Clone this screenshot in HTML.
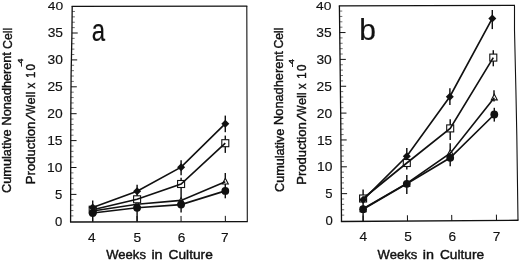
<!DOCTYPE html>
<html><head><meta charset="utf-8"><title>Figure</title>
<style>
html,body{margin:0;padding:0;background:#fff;}
body{width:520px;height:261px;overflow:hidden;font-family:"Liberation Sans",sans-serif;}
svg{display:block;filter:grayscale(1);}
text{font-family:"Liberation Sans",sans-serif;stroke:#111;stroke-width:0.4px;}
text.d{stroke-width:0.15px;}
</style></head><body>
<svg width="520" height="261" viewBox="0 0 520 261" font-family="Liberation Sans, sans-serif" fill="#111">
<rect width="520" height="261" fill="#fff"/>
<polyline points="72.2,6.3 71.9,35 71.1,75 70.8,115 70.6,222" fill="none" stroke="#111" stroke-width="1.3" />
<polyline points="246.8,6.1 247.1,130 247.3,221.6" fill="none" stroke="#111" stroke-width="1.1" />
<line x1="71.6" y1="6.3" x2="247.3" y2="6.1" stroke="#111" stroke-width="1.3" />
<line x1="70" y1="222" x2="247.8" y2="221.6" stroke="#111" stroke-width="1.4" />
<line x1="70.61" y1="215.92" x2="73.41" y2="215.92" stroke="#111" stroke-width="0.8" stroke-opacity="0.75"/>
<line x1="70.62" y1="210.54" x2="73.42" y2="210.54" stroke="#111" stroke-width="0.8" stroke-opacity="0.75"/>
<line x1="70.63" y1="205.16" x2="73.43" y2="205.16" stroke="#111" stroke-width="0.8" stroke-opacity="0.75"/>
<line x1="70.64" y1="199.78" x2="73.44" y2="199.78" stroke="#111" stroke-width="0.8" stroke-opacity="0.75"/>
<line x1="70.65" y1="194.4" x2="76.45" y2="194.4" stroke="#111" stroke-width="1.0" />
<line x1="70.66" y1="189.02" x2="73.46" y2="189.02" stroke="#111" stroke-width="0.8" stroke-opacity="0.75"/>
<line x1="70.67" y1="183.64" x2="73.47" y2="183.64" stroke="#111" stroke-width="0.8" stroke-opacity="0.75"/>
<line x1="70.68" y1="178.26" x2="73.48" y2="178.26" stroke="#111" stroke-width="0.8" stroke-opacity="0.75"/>
<line x1="70.69" y1="172.88" x2="73.49" y2="172.88" stroke="#111" stroke-width="0.8" stroke-opacity="0.75"/>
<line x1="70.7" y1="167.5" x2="76.5" y2="167.5" stroke="#111" stroke-width="1.0" />
<line x1="70.71" y1="162.12" x2="73.51" y2="162.12" stroke="#111" stroke-width="0.8" stroke-opacity="0.75"/>
<line x1="70.72" y1="156.74" x2="73.52" y2="156.74" stroke="#111" stroke-width="0.8" stroke-opacity="0.75"/>
<line x1="70.73" y1="151.36" x2="73.53" y2="151.36" stroke="#111" stroke-width="0.8" stroke-opacity="0.75"/>
<line x1="70.74" y1="145.98" x2="73.54" y2="145.98" stroke="#111" stroke-width="0.8" stroke-opacity="0.75"/>
<line x1="70.75" y1="140.6" x2="76.55" y2="140.6" stroke="#111" stroke-width="1.0" />
<line x1="70.76" y1="135.22" x2="73.56" y2="135.22" stroke="#111" stroke-width="0.8" stroke-opacity="0.75"/>
<line x1="70.77" y1="129.84" x2="73.57" y2="129.84" stroke="#111" stroke-width="0.8" stroke-opacity="0.75"/>
<line x1="70.78" y1="124.46" x2="73.58" y2="124.46" stroke="#111" stroke-width="0.8" stroke-opacity="0.75"/>
<line x1="70.79" y1="119.08" x2="73.59" y2="119.08" stroke="#111" stroke-width="0.8" stroke-opacity="0.75"/>
<line x1="70.81" y1="113.7" x2="76.61" y2="113.7" stroke="#111" stroke-width="1.0" />
<line x1="70.85" y1="108.32" x2="73.65" y2="108.32" stroke="#111" stroke-width="0.8" stroke-opacity="0.75"/>
<line x1="70.89" y1="102.94" x2="73.69" y2="102.94" stroke="#111" stroke-width="0.8" stroke-opacity="0.75"/>
<line x1="70.93" y1="97.56" x2="73.73" y2="97.56" stroke="#111" stroke-width="0.8" stroke-opacity="0.75"/>
<line x1="70.97" y1="92.18" x2="73.77" y2="92.18" stroke="#111" stroke-width="0.8" stroke-opacity="0.75"/>
<line x1="71.01" y1="86.8" x2="76.81" y2="86.8" stroke="#111" stroke-width="1.0" />
<line x1="71.05" y1="81.42" x2="73.85" y2="81.42" stroke="#111" stroke-width="0.8" stroke-opacity="0.75"/>
<line x1="71.09" y1="76.04" x2="73.89" y2="76.04" stroke="#111" stroke-width="0.8" stroke-opacity="0.75"/>
<line x1="71.19" y1="70.66" x2="73.99" y2="70.66" stroke="#111" stroke-width="0.8" stroke-opacity="0.75"/>
<line x1="71.29" y1="65.28" x2="74.09" y2="65.28" stroke="#111" stroke-width="0.8" stroke-opacity="0.75"/>
<line x1="71.4" y1="59.9" x2="77.2" y2="59.9" stroke="#111" stroke-width="1.0" />
<line x1="71.51" y1="54.52" x2="74.31" y2="54.52" stroke="#111" stroke-width="0.8" stroke-opacity="0.75"/>
<line x1="71.62" y1="49.14" x2="74.42" y2="49.14" stroke="#111" stroke-width="0.8" stroke-opacity="0.75"/>
<line x1="71.72" y1="43.76" x2="74.52" y2="43.76" stroke="#111" stroke-width="0.8" stroke-opacity="0.75"/>
<line x1="71.83" y1="38.38" x2="74.63" y2="38.38" stroke="#111" stroke-width="0.8" stroke-opacity="0.75"/>
<line x1="71.92" y1="33" x2="77.72" y2="33" stroke="#111" stroke-width="1.0" />
<line x1="71.98" y1="27.62" x2="74.78" y2="27.62" stroke="#111" stroke-width="0.8" stroke-opacity="0.75"/>
<line x1="72.03" y1="22.24" x2="74.83" y2="22.24" stroke="#111" stroke-width="0.8" stroke-opacity="0.75"/>
<line x1="72.09" y1="16.86" x2="74.89" y2="16.86" stroke="#111" stroke-width="0.8" stroke-opacity="0.75"/>
<line x1="72.15" y1="11.48" x2="74.95" y2="11.48" stroke="#111" stroke-width="0.8" stroke-opacity="0.75"/>
<text x="54.9" y="225.6"  font-size="12.7" text-anchor="start" textLength="7.3" lengthAdjust="spacingAndGlyphs" class="d">0</text>
<text x="55.02" y="198.7"  font-size="12.7" text-anchor="start" textLength="7.3" lengthAdjust="spacingAndGlyphs" class="d">5</text>
<text x="47.05" y="171.8"  font-size="12.7" text-anchor="start" textLength="15.4" lengthAdjust="spacingAndGlyphs" class="d">10</text>
<text x="47.17" y="144.9"  font-size="12.7" text-anchor="start" textLength="15.4" lengthAdjust="spacingAndGlyphs" class="d">15</text>
<text x="47.3" y="118"  font-size="12.7" text-anchor="start" textLength="15.4" lengthAdjust="spacingAndGlyphs" class="d">20</text>
<text x="47.42" y="91.1"  font-size="12.7" text-anchor="start" textLength="15.4" lengthAdjust="spacingAndGlyphs" class="d">25</text>
<text x="47.55" y="64.2"  font-size="12.7" text-anchor="start" textLength="15.4" lengthAdjust="spacingAndGlyphs" class="d">30</text>
<text x="47.67" y="37.3"  font-size="12.7" text-anchor="start" textLength="15.4" lengthAdjust="spacingAndGlyphs" class="d">35</text>
<text transform="translate(47.8,10) scale(1,0.9)" x="0" y="0" font-size="12.7" class="d" textLength="15.4" lengthAdjust="spacingAndGlyphs">40</text>
<line x1="92.7" y1="221.95" x2="92.6" y2="216.15" stroke="#111" stroke-width="1.0" />
<text x="88.1" y="241.5"  font-size="13" text-anchor="start" textLength="7.6" lengthAdjust="spacingAndGlyphs" class="d">4</text>
<line x1="137.1" y1="221.85" x2="137" y2="216.05" stroke="#111" stroke-width="1.0" />
<text x="133.4" y="241.5"  font-size="13" text-anchor="start" textLength="7.6" lengthAdjust="spacingAndGlyphs" class="d">5</text>
<line x1="181.1" y1="221.75" x2="181" y2="215.95" stroke="#111" stroke-width="1.0" />
<text x="177.7" y="241.5"  font-size="13" text-anchor="start" textLength="7.6" lengthAdjust="spacingAndGlyphs" class="d">6</text>
<line x1="225.4" y1="221.65" x2="225.3" y2="215.85" stroke="#111" stroke-width="1.0" />
<text x="221" y="241.5"  font-size="13" text-anchor="start" textLength="7.6" lengthAdjust="spacingAndGlyphs" class="d">7</text>
<polyline points="339.4,5.8 340.7,115 341.5,221.5" fill="none" stroke="#111" stroke-width="1.3" />
<polyline points="514.5,5.4 514.5,30 515.9,90 516.8,135 518,220.3" fill="none" stroke="#111" stroke-width="1.1" />
<line x1="338.8" y1="5.8" x2="515" y2="5.4" stroke="#111" stroke-width="1.3" />
<line x1="340.9" y1="221.5" x2="518.5" y2="220.3" stroke="#111" stroke-width="1.4" />
<line x1="341.45" y1="215.13" x2="344.25" y2="215.13" stroke="#111" stroke-width="0.8" stroke-opacity="0.75"/>
<line x1="341.41" y1="209.76" x2="344.21" y2="209.76" stroke="#111" stroke-width="0.8" stroke-opacity="0.75"/>
<line x1="341.37" y1="204.39" x2="344.17" y2="204.39" stroke="#111" stroke-width="0.8" stroke-opacity="0.75"/>
<line x1="341.33" y1="199.02" x2="344.13" y2="199.02" stroke="#111" stroke-width="0.8" stroke-opacity="0.75"/>
<line x1="341.29" y1="193.65" x2="347.09" y2="193.65" stroke="#111" stroke-width="1.0" />
<line x1="341.25" y1="188.28" x2="344.05" y2="188.28" stroke="#111" stroke-width="0.8" stroke-opacity="0.75"/>
<line x1="341.21" y1="182.91" x2="344.01" y2="182.91" stroke="#111" stroke-width="0.8" stroke-opacity="0.75"/>
<line x1="341.17" y1="177.54" x2="343.97" y2="177.54" stroke="#111" stroke-width="0.8" stroke-opacity="0.75"/>
<line x1="341.13" y1="172.17" x2="343.93" y2="172.17" stroke="#111" stroke-width="0.8" stroke-opacity="0.75"/>
<line x1="341.09" y1="166.8" x2="346.89" y2="166.8" stroke="#111" stroke-width="1.0" />
<line x1="341.05" y1="161.43" x2="343.85" y2="161.43" stroke="#111" stroke-width="0.8" stroke-opacity="0.75"/>
<line x1="341.01" y1="156.06" x2="343.81" y2="156.06" stroke="#111" stroke-width="0.8" stroke-opacity="0.75"/>
<line x1="340.97" y1="150.69" x2="343.77" y2="150.69" stroke="#111" stroke-width="0.8" stroke-opacity="0.75"/>
<line x1="340.93" y1="145.32" x2="343.73" y2="145.32" stroke="#111" stroke-width="0.8" stroke-opacity="0.75"/>
<line x1="340.89" y1="139.95" x2="346.69" y2="139.95" stroke="#111" stroke-width="1.0" />
<line x1="340.85" y1="134.58" x2="343.65" y2="134.58" stroke="#111" stroke-width="0.8" stroke-opacity="0.75"/>
<line x1="340.81" y1="129.21" x2="343.61" y2="129.21" stroke="#111" stroke-width="0.8" stroke-opacity="0.75"/>
<line x1="340.77" y1="123.84" x2="343.57" y2="123.84" stroke="#111" stroke-width="0.8" stroke-opacity="0.75"/>
<line x1="340.73" y1="118.47" x2="343.53" y2="118.47" stroke="#111" stroke-width="0.8" stroke-opacity="0.75"/>
<line x1="340.68" y1="113.1" x2="346.48" y2="113.1" stroke="#111" stroke-width="1.0" />
<line x1="340.61" y1="107.73" x2="343.41" y2="107.73" stroke="#111" stroke-width="0.8" stroke-opacity="0.75"/>
<line x1="340.55" y1="102.36" x2="343.35" y2="102.36" stroke="#111" stroke-width="0.8" stroke-opacity="0.75"/>
<line x1="340.49" y1="96.99" x2="343.29" y2="96.99" stroke="#111" stroke-width="0.8" stroke-opacity="0.75"/>
<line x1="340.42" y1="91.62" x2="343.22" y2="91.62" stroke="#111" stroke-width="0.8" stroke-opacity="0.75"/>
<line x1="340.36" y1="86.25" x2="346.16" y2="86.25" stroke="#111" stroke-width="1.0" />
<line x1="340.29" y1="80.88" x2="343.09" y2="80.88" stroke="#111" stroke-width="0.8" stroke-opacity="0.75"/>
<line x1="340.23" y1="75.51" x2="343.03" y2="75.51" stroke="#111" stroke-width="0.8" stroke-opacity="0.75"/>
<line x1="340.17" y1="70.14" x2="342.97" y2="70.14" stroke="#111" stroke-width="0.8" stroke-opacity="0.75"/>
<line x1="340.1" y1="64.77" x2="342.9" y2="64.77" stroke="#111" stroke-width="0.8" stroke-opacity="0.75"/>
<line x1="340.04" y1="59.4" x2="345.84" y2="59.4" stroke="#111" stroke-width="1.0" />
<line x1="339.97" y1="54.03" x2="342.77" y2="54.03" stroke="#111" stroke-width="0.8" stroke-opacity="0.75"/>
<line x1="339.91" y1="48.66" x2="342.71" y2="48.66" stroke="#111" stroke-width="0.8" stroke-opacity="0.75"/>
<line x1="339.85" y1="43.29" x2="342.65" y2="43.29" stroke="#111" stroke-width="0.8" stroke-opacity="0.75"/>
<line x1="339.78" y1="37.92" x2="342.58" y2="37.92" stroke="#111" stroke-width="0.8" stroke-opacity="0.75"/>
<line x1="339.72" y1="32.55" x2="345.52" y2="32.55" stroke="#111" stroke-width="1.0" />
<line x1="339.65" y1="27.18" x2="342.45" y2="27.18" stroke="#111" stroke-width="0.8" stroke-opacity="0.75"/>
<line x1="339.59" y1="21.81" x2="342.39" y2="21.81" stroke="#111" stroke-width="0.8" stroke-opacity="0.75"/>
<line x1="339.53" y1="16.44" x2="342.33" y2="16.44" stroke="#111" stroke-width="0.8" stroke-opacity="0.75"/>
<line x1="339.46" y1="11.07" x2="342.26" y2="11.07" stroke="#111" stroke-width="0.8" stroke-opacity="0.75"/>
<text x="325.5" y="225.1"  font-size="12.7" text-anchor="start" textLength="7.3" lengthAdjust="spacingAndGlyphs" class="d">0</text>
<text x="325.34" y="198.25"  font-size="12.7" text-anchor="start" textLength="7.3" lengthAdjust="spacingAndGlyphs" class="d">5</text>
<text x="317.07" y="171.4"  font-size="12.7" text-anchor="start" textLength="15.4" lengthAdjust="spacingAndGlyphs" class="d">10</text>
<text x="316.91" y="144.55"  font-size="12.7" text-anchor="start" textLength="15.4" lengthAdjust="spacingAndGlyphs" class="d">15</text>
<text x="316.75" y="117.7"  font-size="12.7" text-anchor="start" textLength="15.4" lengthAdjust="spacingAndGlyphs" class="d">20</text>
<text x="316.59" y="90.85"  font-size="12.7" text-anchor="start" textLength="15.4" lengthAdjust="spacingAndGlyphs" class="d">25</text>
<text x="316.42" y="64"  font-size="12.7" text-anchor="start" textLength="15.4" lengthAdjust="spacingAndGlyphs" class="d">30</text>
<text x="316.26" y="37.15"  font-size="12.7" text-anchor="start" textLength="15.4" lengthAdjust="spacingAndGlyphs" class="d">35</text>
<text transform="translate(316.1,9.9) scale(1,0.9)" x="0" y="0" font-size="12.7" class="d" textLength="15.4" lengthAdjust="spacingAndGlyphs">40</text>
<line x1="363.2" y1="221.35" x2="363.1" y2="215.55" stroke="#111" stroke-width="1.0" />
<text x="359.4" y="240.5"  font-size="13" text-anchor="start" textLength="7.6" lengthAdjust="spacingAndGlyphs" class="d">4</text>
<line x1="407.5" y1="221.05" x2="407.4" y2="215.25" stroke="#111" stroke-width="1.0" />
<text x="404.3" y="240.5"  font-size="13" text-anchor="start" textLength="7.6" lengthAdjust="spacingAndGlyphs" class="d">5</text>
<line x1="451.8" y1="220.75" x2="451.7" y2="214.95" stroke="#111" stroke-width="1.0" />
<text x="448.6" y="240.5"  font-size="13" text-anchor="start" textLength="7.6" lengthAdjust="spacingAndGlyphs" class="d">6</text>
<line x1="496.5" y1="220.45" x2="496.4" y2="214.65" stroke="#111" stroke-width="1.0" />
<text x="492.7" y="240.5"  font-size="13" text-anchor="start" textLength="7.6" lengthAdjust="spacingAndGlyphs" class="d">7</text>
<line x1="92.7" y1="200.5" x2="92.7" y2="221.5" stroke="#111" stroke-width="1.45" />
<line x1="137.1" y1="184.7" x2="137.1" y2="221.5" stroke="#111" stroke-width="1.45" />
<line x1="181.1" y1="160.3" x2="181.1" y2="175.3" stroke="#111" stroke-width="1.45" />
<line x1="181.1" y1="177.8" x2="181.1" y2="212.6" stroke="#111" stroke-width="1.45" />
<line x1="225.3" y1="115.6" x2="225.3" y2="132.2" stroke="#111" stroke-width="1.45" />
<line x1="225.3" y1="135.6" x2="225.3" y2="152.9" stroke="#111" stroke-width="1.45" />
<line x1="225.3" y1="173" x2="225.3" y2="186" stroke="#111" stroke-width="1.45" />
<line x1="225.3" y1="186" x2="225.3" y2="198.3" stroke="#111" stroke-width="1.45" />
<line x1="363.1" y1="189.6" x2="363.1" y2="221.5" stroke="#111" stroke-width="1.45" />
<line x1="406.8" y1="148" x2="406.8" y2="169.4" stroke="#111" stroke-width="1.45" />
<line x1="406.8" y1="175" x2="406.8" y2="194" stroke="#111" stroke-width="1.45" />
<line x1="449.9" y1="88.3" x2="449.9" y2="105" stroke="#111" stroke-width="1.45" />
<line x1="450.2" y1="119.2" x2="450.2" y2="139.9" stroke="#111" stroke-width="1.45" />
<line x1="450.2" y1="143.3" x2="450.2" y2="166.3" stroke="#111" stroke-width="1.45" />
<line x1="492.3" y1="10" x2="492.3" y2="29.1" stroke="#111" stroke-width="1.45" />
<line x1="493.3" y1="50.2" x2="493.3" y2="66.3" stroke="#111" stroke-width="1.45" />
<line x1="494" y1="90.3" x2="494" y2="101.5" stroke="#111" stroke-width="1.45" />
<line x1="494.3" y1="107.8" x2="494.3" y2="121.6" stroke="#111" stroke-width="1.45" />
<polygon points="92.7,208.3 95.7,213.9 89.7,213.9" fill="#fff" stroke="#111" stroke-width="1.1" stroke-linejoin="miter"/>
<polygon points="137.1,201.4 140.1,207 134.1,207" fill="#fff" stroke="#111" stroke-width="1.1" stroke-linejoin="miter"/>
<polygon points="181.1,197.6 184.1,203.2 178.1,203.2" fill="#fff" stroke="#111" stroke-width="1.1" stroke-linejoin="miter"/>
<polygon points="225.3,178.35 228.3,183.95 222.3,183.95" fill="#fff" stroke="#111" stroke-width="1.1" stroke-linejoin="miter"/>
<rect x="89.2" y="206.2" width="7.0" height="7.0" fill="#fff" stroke="#111" stroke-width="1.1"/>
<rect x="133.6" y="195.8" width="7.0" height="7.0" fill="#fff" stroke="#111" stroke-width="1.1"/>
<rect x="177.6" y="180.5" width="7.0" height="7.0" fill="#fff" stroke="#111" stroke-width="1.1"/>
<rect x="221.8" y="139.7" width="7.0" height="7.0" fill="#fff" stroke="#111" stroke-width="1.1"/>
<circle cx="92.7" cy="213" r="3.9" fill="#111"/>
<circle cx="137.1" cy="207.8" r="3.9" fill="#111"/>
<circle cx="181.1" cy="204.6" r="3.9" fill="#111"/>
<circle cx="225.3" cy="190.9" r="3.9" fill="#111"/>
<polygon points="92.7,203.6 96.7,207.6 92.7,211.6 88.7,207.6" fill="#111"/>
<polygon points="137.1,187.3 141.1,191.3 137.1,195.3 133.1,191.3" fill="#111"/>
<polygon points="181.1,163.2 185.1,167.2 181.1,171.2 177.1,167.2" fill="#111"/>
<polygon points="225.3,119.7 229.3,123.7 225.3,127.7 221.3,123.7" fill="#111"/>
<polygon points="363.1,206.1 366.1,211.7 360.1,211.7" fill="#fff" stroke="#111" stroke-width="1.1" stroke-linejoin="miter"/>
<polygon points="406.8,180.7 409.8,186.3 403.8,186.3" fill="#fff" stroke="#111" stroke-width="1.1" stroke-linejoin="miter"/>
<polygon points="450.3,149.55 453.3,155.15 447.3,155.15" fill="#fff" stroke="#111" stroke-width="1.1" stroke-linejoin="miter"/>
<polygon points="494.3,94.25 497.3,99.85 491.3,99.85" fill="#fff" stroke="#111" stroke-width="1.1" stroke-linejoin="miter"/>
<rect x="359.6" y="195" width="7.0" height="7.0" fill="#fff" stroke="#111" stroke-width="1.1"/>
<rect x="403.3" y="159.5" width="7.0" height="7.0" fill="#fff" stroke="#111" stroke-width="1.1"/>
<rect x="446.7" y="124.9" width="7.0" height="7.0" fill="#fff" stroke="#111" stroke-width="1.1"/>
<rect x="489.8" y="54.1" width="7.0" height="7.0" fill="#fff" stroke="#111" stroke-width="1.1"/>
<circle cx="363.1" cy="209.2" r="3.9" fill="#111"/>
<circle cx="406.8" cy="183.8" r="3.9" fill="#111"/>
<circle cx="450.2" cy="157.8" r="3.9" fill="#111"/>
<circle cx="494.3" cy="114.5" r="3.9" fill="#111"/>
<polygon points="363.1,195.8 367.1,199.8 363.1,203.8 359.1,199.8" fill="#111"/>
<polygon points="406.8,152.3 410.8,156.3 406.8,160.3 402.8,156.3" fill="#111"/>
<polygon points="449.8,92.7 453.8,96.7 449.8,100.7 445.8,96.7" fill="#111"/>
<polygon points="492.3,14.4 496.3,18.4 492.3,22.4 488.3,18.4" fill="#111"/>
<polyline points="92.7,207.6 137.1,191.3 181.1,167.2 225.3,123.7" fill="none" stroke="#111" stroke-width="1.65" />
<polyline points="92.7,209.7 137.1,199.3 181.1,184 225.3,143.2" fill="none" stroke="#111" stroke-width="1.65" />
<polyline points="92.7,211 137.1,204.3 181.1,200.4 225.3,181.7" fill="none" stroke="#111" stroke-width="1.65" />
<polyline points="92.7,213 137.1,207.8 181.1,204.6 225.3,190.9" fill="none" stroke="#111" stroke-width="1.65" />
<polyline points="363.1,199.8 406.8,156.3 449.8,96.7 492.3,18.4" fill="none" stroke="#111" stroke-width="1.65" />
<polyline points="363.1,198.5 406.8,163 450.2,128.4 493.3,57.6" fill="none" stroke="#111" stroke-width="1.65" />
<polyline points="363.1,208.8 406.8,183.4 450.3,153.2 494.3,97.7" fill="none" stroke="#111" stroke-width="1.65" />
<polyline points="363.1,209.2 406.8,183.8 450.2,157.8 494.3,114.5" fill="none" stroke="#111" stroke-width="1.65" />
<text transform="translate(91.8,40.5) scale(0.8,1.03)" x="0" y="0" font-size="30" style="stroke-width:0.2px">a</text>
<text x="359.3" y="39.6"  font-size="30" text-anchor="start"  style="stroke-width:0.2px">b</text>
<text x="106.3" y="259.3"  font-size="12.6" text-anchor="start" textLength="39.6" lengthAdjust="spacingAndGlyphs" >Weeks</text>
<text x="151.4" y="259.3"  font-size="12.6" text-anchor="start" textLength="11.2" lengthAdjust="spacingAndGlyphs" >in</text>
<text x="168.6" y="259.3"  font-size="12.6" text-anchor="start" textLength="44.2" lengthAdjust="spacingAndGlyphs" >Culture</text>
<text x="377.6" y="258.9"  font-size="12.6" text-anchor="start" textLength="39.6" lengthAdjust="spacingAndGlyphs" >Weeks</text>
<text x="422.7" y="258.9"  font-size="12.6" text-anchor="start" textLength="11.2" lengthAdjust="spacingAndGlyphs" >in</text>
<text x="439.9" y="258.9"  font-size="12.6" text-anchor="start" textLength="44.2" lengthAdjust="spacingAndGlyphs" >Culture</text>
<text x="0" y="0" transform="translate(10.9,192.9) rotate(-90)" font-size="12.5" text-anchor="start" textLength="63.6" lengthAdjust="spacingAndGlyphs" >Cumulative</text>
<text x="0" y="0" transform="translate(10.9,125.4) rotate(-90)" font-size="12.5" text-anchor="start" textLength="73.3" lengthAdjust="spacingAndGlyphs" >Nonadherent</text>
<text x="0" y="0" transform="translate(12,48.9) rotate(-90)" font-size="12.5" text-anchor="start" textLength="21.2" lengthAdjust="spacingAndGlyphs" >Cell</text>
<text x="0" y="0" transform="translate(35,184.2) rotate(-90)" font-size="12.5" text-anchor="start" textLength="62.6" lengthAdjust="spacingAndGlyphs" >Production</text>
<line x1="35.1" y1="120.3" x2="25.9" y2="114.9" stroke="#111" stroke-width="1.45" />
<text x="0" y="0" transform="translate(35,114.6) rotate(-90)" font-size="12.5" text-anchor="start" textLength="9.8" lengthAdjust="spacingAndGlyphs" >W</text>
<text x="0" y="0" transform="translate(35,104.5) rotate(-90)" font-size="12.5" text-anchor="start" textLength="12.8" lengthAdjust="spacingAndGlyphs" >ell</text>
<text x="0" y="0" transform="translate(35,88.6) rotate(-90)" font-size="12.5" text-anchor="start" textLength="5.8" lengthAdjust="spacingAndGlyphs" >x</text>
<text x="0" y="0" transform="translate(35,78.1) rotate(-90)" font-size="12.5" text-anchor="start" textLength="6.3" lengthAdjust="spacingAndGlyphs" >1</text>
<text x="0" y="0" transform="translate(35.3,70.5) rotate(-90)" font-size="12.5" text-anchor="start" textLength="6.4" lengthAdjust="spacingAndGlyphs" >0</text>
<text x="0" y="0" transform="translate(23.1,66.7) rotate(-90)" font-size="7.5" text-anchor="start" textLength="8.2" lengthAdjust="spacingAndGlyphs" >-4</text>
<text x="0" y="0" transform="translate(283.8,191.9) rotate(-90)" font-size="12.5" text-anchor="start" textLength="63.1" lengthAdjust="spacingAndGlyphs" >Cumulative</text>
<text x="0" y="0" transform="translate(283,124.9) rotate(-90)" font-size="12.5" text-anchor="start" textLength="73.8" lengthAdjust="spacingAndGlyphs" >Nonadherent</text>
<text x="0" y="0" transform="translate(283,48.5) rotate(-90)" font-size="12.5" text-anchor="start" textLength="20.9" lengthAdjust="spacingAndGlyphs" >Cell</text>
<text x="0" y="0" transform="translate(306,184.8) rotate(-90)" font-size="12.5" text-anchor="start" textLength="62.6" lengthAdjust="spacingAndGlyphs" >Production</text>
<line x1="306.1" y1="120.9" x2="296.9" y2="115.5" stroke="#111" stroke-width="1.45" />
<text x="0" y="0" transform="translate(306,115.2) rotate(-90)" font-size="12.5" text-anchor="start" textLength="9.8" lengthAdjust="spacingAndGlyphs" >W</text>
<text x="0" y="0" transform="translate(306,105.1) rotate(-90)" font-size="12.5" text-anchor="start" textLength="12.8" lengthAdjust="spacingAndGlyphs" >ell</text>
<text x="0" y="0" transform="translate(306,89.2) rotate(-90)" font-size="12.5" text-anchor="start" textLength="5.8" lengthAdjust="spacingAndGlyphs" >x</text>
<text x="0" y="0" transform="translate(306,78.7) rotate(-90)" font-size="12.5" text-anchor="start" textLength="6.3" lengthAdjust="spacingAndGlyphs" >1</text>
<text x="0" y="0" transform="translate(306.3,71.1) rotate(-90)" font-size="12.5" text-anchor="start" textLength="6.4" lengthAdjust="spacingAndGlyphs" >0</text>
<text x="0" y="0" transform="translate(294.1,67.3) rotate(-90)" font-size="7.5" text-anchor="start" textLength="8.2" lengthAdjust="spacingAndGlyphs" >-4</text>
</svg>
</body></html>
